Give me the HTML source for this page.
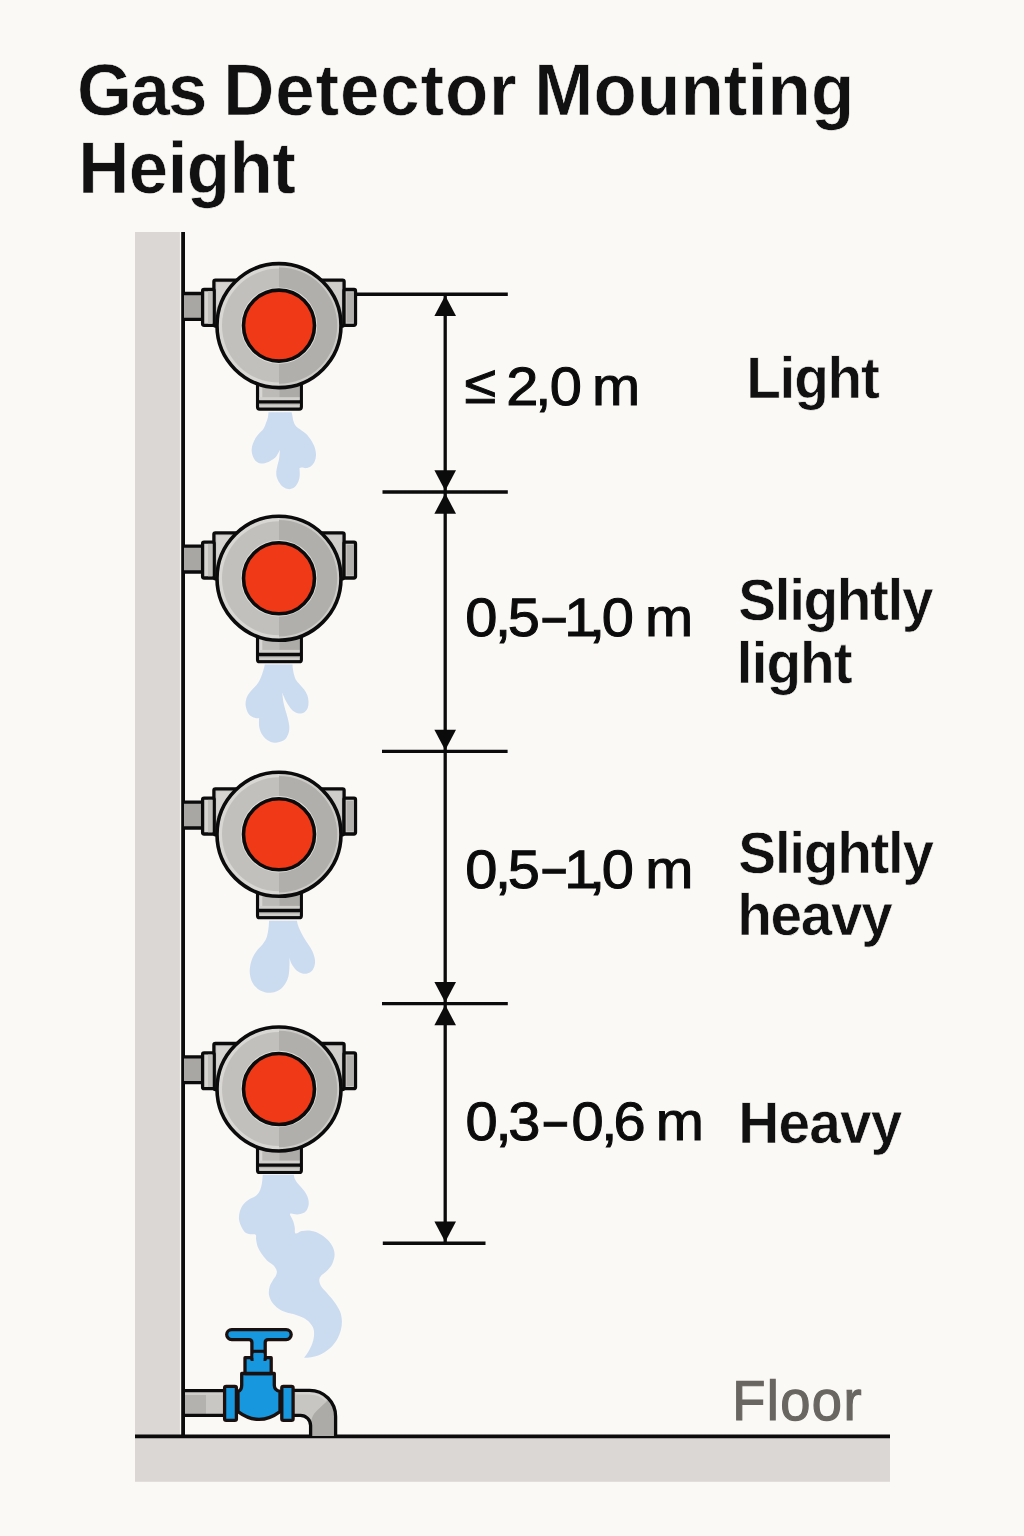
<!DOCTYPE html>
<html lang="en"><head><meta charset="utf-8"><title>Gas Detector Mounting Height</title>
<style>html,body{margin:0;padding:0;background:#fbf9f6;overflow:hidden}svg{display:block}text{font-family:"Liberation Sans",sans-serif;white-space:pre;text-rendering:geometricPrecision;font-kerning:none}</style>
</head><body>
<svg width="1024" height="1536" viewBox="0 0 1024 1536">
<rect width="1024" height="1536" fill="#fbf9f6"/>
<g id="title">
<text transform="translate(0 114.5) scale(0.97 1)" x="79.48 134.44 173.22 213.82 230.17 283.79 325.3 350.52 392.02 433.53 458.74 504.24 532.65 550.79 611.81 656.62 701.43 746.23 770.76 791.26 836.07" y="0" font-size="73" font-weight="700" fill="#111" stroke="#fbf9f6" stroke-width="0.6">Gas Detector Mounting</text>
<text transform="translate(0 193) scale(0.97 1)" x="80.68 132.85 172.9 192.63 236.67 280.71" y="0" font-size="73" font-weight="700" fill="#111" stroke="#fbf9f6" stroke-width="0.6">Height</text>
</g>
<g id="structure">
<rect x="135" y="232" width="44.9" height="1205" fill="#dad7d4"/>
<rect x="135" y="1437" width="755" height="44.8" fill="#dad7d4"/>
<path d="M183.1 232V1436.4" stroke="#0b0b0b" stroke-width="3.8" fill="none"/>
<path d="M135 1436.4H890" stroke="#0b0b0b" stroke-width="3.7" fill="none"/>
</g>
<g id="plumes" fill="#cbdcf1">
<path d="M268.5 412.25C268.5 412.25 291.62 412.25 291.62 412.25C291.62 412.25 291.94 413.5 292.25 415C292.56 416.5 292.88 419.38 293.5 421.25C294.12 423.12 294.75 424.79 296 426.25C297.25 427.71 299.33 428.75 301 430C302.67 431.25 304.33 432.08 306 433.75C307.67 435.42 309.54 437.71 311 440C312.46 442.29 313.92 445 314.75 447.5C315.58 450 316 452.71 316 455C316 457.29 315.58 459.38 314.75 461.25C313.92 463.12 312.46 465.1 311 466.25C309.54 467.4 307.46 467.92 306 468.12C304.54 468.33 303.33 467.5 302.25 467.5C301.17 467.5 299.5 468.12 299.5 468.12C299.5 468.12 299.92 472.81 299.75 475C299.58 477.19 299.33 479.27 298.5 481.25C297.67 483.23 296.42 485.56 294.75 486.88C293.08 488.19 290.58 489.23 288.5 489.12C286.42 489.02 284.02 487.77 282.25 486.25C280.48 484.73 278.88 482.08 277.88 480C276.88 477.92 276.35 476.04 276.25 473.75C276.15 471.46 276.77 468.75 277.25 466.25C277.73 463.75 278.67 461.5 279.12 458.75C279.58 456 280 449.75 280 449.75C280 449.75 278.75 452.35 277.88 453.75C277 455.15 276.31 456.77 274.75 458.12C273.19 459.48 270.79 460.98 268.5 461.88C266.21 462.77 263.08 463.6 261 463.5C258.92 463.4 257.35 462.46 256 461.25C254.65 460.04 253.6 458.12 252.88 456.25C252.15 454.38 251.62 452.08 251.62 450C251.62 447.92 252.19 445.79 252.88 443.75C253.56 441.71 254.65 439.52 255.75 437.75C256.85 435.98 258.21 434.62 259.5 433.12C260.79 431.62 262.42 430.42 263.5 428.75C264.58 427.08 265.27 425 266 423.12C266.73 421.25 267.46 419.31 267.88 417.5C268.29 415.69 268.5 412.25 268.5 412.25Z"/>
<path d="M264.75 664.38C264.75 664.38 292.5 664.38 292.5 664.38C292.5 664.38 292.6 666.98 292.88 668.75C293.15 670.52 293.6 673.12 294.12 675C294.65 676.88 295.06 678.44 296 680C296.94 681.56 298.4 682.81 299.75 684.38C301.1 685.94 302.88 687.6 304.12 689.38C305.38 691.15 306.52 693.02 307.25 695C307.98 696.98 308.4 699.17 308.5 701.25C308.6 703.33 308.5 705.73 307.88 707.5C307.25 709.27 306.21 710.88 304.75 711.88C303.29 712.88 301 713.6 299.12 713.5C297.25 713.4 295.17 712.46 293.5 711.25C291.83 710.04 290.48 708.12 289.12 706.25C287.77 704.38 286.52 702.29 285.38 700C284.23 697.71 282.25 692.5 282.25 692.5C282.25 692.5 282.98 699.58 283.5 702.5C284.02 705.42 284.65 707.29 285.38 710C286.1 712.71 287.21 715.83 287.88 718.75C288.54 721.67 289.38 724.79 289.38 727.5C289.38 730.21 288.85 732.81 287.88 735C286.9 737.19 285.69 739.33 283.5 740.62C281.31 741.92 277.46 742.85 274.75 742.75C272.04 742.65 269.44 741.5 267.25 740C265.06 738.5 262.98 736.04 261.62 733.75C260.27 731.46 259.54 728.85 259.12 726.25C258.71 723.65 259.12 718.12 259.12 718.12C259.12 718.12 255.27 718.23 253.5 717.5C251.73 716.77 249.75 715.42 248.5 713.75C247.25 712.08 246.46 709.58 246 707.5C245.54 705.42 245.44 703.33 245.75 701.25C246.06 699.17 246.79 696.98 247.88 695C248.96 693.02 250.79 691.04 252.25 689.38C253.71 687.71 255.38 686.56 256.62 685C257.88 683.44 258.81 681.88 259.75 680C260.69 678.12 261.52 675.83 262.25 673.75C262.98 671.67 263.71 669.06 264.12 667.5C264.54 665.94 264.75 664.38 264.75 664.38Z"/>
<path d="M269.12 920.75C269.12 920.75 297 920.75 297 920.75C297 920.75 297.31 923.04 297.88 924.75C298.44 926.46 299.33 928.81 300.38 931C301.42 933.19 302.77 935.58 304.12 937.88C305.48 940.17 307.15 942.56 308.5 944.75C309.85 946.94 311.21 948.71 312.25 951C313.29 953.29 314.33 956.21 314.75 958.5C315.17 960.79 315.17 962.77 314.75 964.75C314.33 966.73 313.5 968.92 312.25 970.38C311 971.83 308.92 972.98 307.25 973.5C305.58 974.02 303.92 973.92 302.25 973.5C300.58 973.08 298.81 972.25 297.25 971C295.69 969.75 294.02 967.67 292.88 966C291.73 964.33 290.94 962.46 290.38 961C289.81 959.54 289.5 957.25 289.5 957.25C289.5 957.25 289.67 962.88 289.5 966C289.33 969.12 289.19 973.08 288.5 976C287.81 978.92 286.83 981.21 285.38 983.5C283.92 985.79 281.94 988.23 279.75 989.75C277.56 991.27 274.75 992.21 272.25 992.62C269.75 993.04 267.25 992.94 264.75 992.25C262.25 991.56 259.33 990.17 257.25 988.5C255.17 986.83 253.46 984.54 252.25 982.25C251.04 979.96 250.38 977.25 250 974.75C249.62 972.25 249.62 969.96 250 967.25C250.38 964.54 251.15 961.21 252.25 958.5C253.35 955.79 254.96 953.29 256.62 951C258.29 948.71 260.69 946.73 262.25 944.75C263.81 942.77 265.06 941.21 266 939.12C266.94 937.04 267.42 934.44 267.88 932.25C268.33 930.06 268.54 927.92 268.75 926C268.96 924.08 269.12 920.75 269.12 920.75Z"/>
<path d="M262.69 1174.84C262.69 1174.84 293.94 1174.84 293.94 1174.84C293.94 1174.84 294.07 1177.32 294.72 1178.75C295.37 1180.18 296.41 1181.61 297.84 1183.44C299.28 1185.26 301.75 1187.6 303.31 1189.69C304.88 1191.77 306.31 1193.72 307.22 1195.94C308.13 1198.15 308.78 1200.76 308.78 1202.97C308.78 1205.18 308.13 1207.53 307.22 1209.22C306.31 1210.91 305.01 1212.27 303.31 1213.12C301.62 1213.98 299.28 1214.24 297.06 1214.38C294.85 1214.51 290.68 1212.81 290.03 1213.91C289.38 1215 292.38 1218.72 293.16 1220.94C293.94 1223.15 294.33 1225.1 294.72 1227.19C295.11 1229.27 294.33 1232.79 295.5 1233.44C296.67 1234.09 299.41 1231.56 301.75 1231.09C304.09 1230.62 306.7 1230.23 309.56 1230.62C312.43 1231.02 315.94 1231.93 318.94 1233.44C321.93 1234.95 325.19 1237.34 327.53 1239.69C329.88 1242.03 331.83 1244.9 333 1247.5C334.17 1250.1 334.69 1252.58 334.56 1255.31C334.43 1258.05 333.52 1261.3 332.22 1263.91C330.92 1266.51 328.57 1268.98 326.75 1270.94C324.93 1272.89 322.53 1274.06 321.28 1275.62C320.03 1277.19 319.25 1278.49 319.25 1280.31C319.25 1282.14 320.03 1284.48 321.28 1286.56C322.53 1288.65 324.54 1290.21 326.75 1292.81C328.96 1295.42 332.35 1299.06 334.56 1302.19C336.78 1305.31 338.81 1308.44 340.03 1311.56C341.26 1314.69 341.78 1317.81 341.91 1320.94C342.04 1324.06 341.65 1327.19 340.81 1330.31C339.98 1333.44 338.73 1336.69 336.91 1339.69C335.08 1342.68 332.61 1345.81 329.88 1348.28C327.14 1350.76 323.62 1353.05 320.5 1354.53C317.38 1356.02 313.86 1356.67 311.12 1357.19C308.39 1357.71 304.09 1357.66 304.09 1357.66C304.09 1357.66 306.7 1354.4 308 1352.19C309.3 1349.97 310.92 1346.98 311.91 1344.38C312.9 1341.77 313.68 1339.17 313.94 1336.56C314.2 1333.96 314.2 1331.09 313.47 1328.75C312.74 1326.41 311.26 1324.32 309.56 1322.5C307.87 1320.68 305.66 1319.11 303.31 1317.81C300.97 1316.51 298.36 1315.6 295.5 1314.69C292.64 1313.78 288.99 1313.39 286.12 1312.34C283.26 1311.3 280.66 1310.13 278.31 1308.44C275.97 1306.74 273.62 1304.53 272.06 1302.19C270.5 1299.84 269.33 1296.98 268.94 1294.38C268.55 1291.77 269.07 1288.91 269.72 1286.56C270.37 1284.22 271.8 1282.14 272.84 1280.31C273.89 1278.49 275.32 1277.19 275.97 1275.62C276.62 1274.06 277.14 1272.63 276.75 1270.94C276.36 1269.24 275.06 1267.03 273.62 1265.47C272.19 1263.91 269.98 1263.26 268.16 1261.56C266.33 1259.87 264.38 1257.66 262.69 1255.31C260.99 1252.97 259.09 1250.1 258 1247.5C256.91 1244.9 256.52 1241.82 256.12 1239.69C255.73 1237.55 256.65 1235.6 255.66 1234.69C254.67 1233.78 252.01 1234.69 250.19 1234.22C248.36 1233.75 246.28 1233.31 244.72 1231.88C243.16 1230.44 241.78 1227.84 240.81 1225.62C239.85 1223.41 239.07 1221.07 238.94 1218.59C238.81 1216.12 239.2 1213.26 240.03 1210.78C240.86 1208.31 242.24 1205.76 243.94 1203.75C245.63 1201.74 248.23 1200.05 250.19 1198.75C252.14 1197.45 254.09 1197.19 255.66 1195.94C257.22 1194.69 258.52 1193.33 259.56 1191.25C260.6 1189.17 261.39 1186.17 261.91 1183.44C262.43 1180.7 262.69 1174.84 262.69 1174.84Z"/>
</g>
<g id="dimensions">
<path d="M445.2 294.3V1243.2" stroke="#0b0b0b" stroke-width="3.3" fill="none"/>
<path d="M356 294.3H507.8M382.5 492H507.8M382 751.4H507.6M382 1003.6H507.8M382.8 1243.2H485.5" stroke="#0b0b0b" stroke-width="3.4" fill="none"/>
<path d="M445.2 295.5L434.4 316H456Z" fill="#0b0b0b"/>
<path d="M445.2 490.8L434.4 470.3H456Z" fill="#0b0b0b"/>
<path d="M445.2 493.2L434.4 513.7H456Z" fill="#0b0b0b"/>
<path d="M445.2 750.2L434.4 729.7H456Z" fill="#0b0b0b"/>
<path d="M445.2 1002.4L434.4 981.9H456Z" fill="#0b0b0b"/>
<path d="M445.2 1004.8L434.4 1025.3H456Z" fill="#0b0b0b"/>
<path d="M445.2 1242L434.4 1221.5H456Z" fill="#0b0b0b"/>
</g>
<g id="detectors">
<g transform="translate(279 325.6)">
<rect x="-95" y="-32.1" width="19" height="25.8" fill="#a9a7a4"/>
<path d="M-95 -32.1H-76M-95 -6.3H-76" stroke="#0b0b0b" stroke-width="3.3" fill="none"/>
<rect x="-65.1" y="-45.5" width="130.2" height="46" rx="1.5" fill="#c8c6c3" stroke="#0b0b0b" stroke-width="3.3"/>
<path d="M-62.5 -42.8H-44L-62.5 -18Z" fill="#d6d4d1"/>
<path d="M62.5 -42.8H44L62.5 -18Z" fill="#d0cecb"/>
<rect x="-76.4" y="-36.1" width="11.5" height="35.8" rx="1.5" fill="#d6d4d1" stroke="#0b0b0b" stroke-width="3.3"/>
<rect x="-71" y="-34.4" width="4.5" height="32.4" fill="#c2c0bd"/>
<rect x="65" y="-36.1" width="11.5" height="35.8" rx="1.5" fill="#cbc9c6" stroke="#0b0b0b" stroke-width="3.3"/>
<rect x="67.6" y="-33.4" width="6.6" height="30.4" fill="#b3b1ae"/>
<path d="M-21.4 52V81.4Q-21.4 83.4 -19.4 83.4H20.3Q22.3 83.4 22.3 81.4V52Z" fill="#bdbbb8" stroke="#0b0b0b" stroke-width="3.3" stroke-linejoin="round"/>
<rect x="-19.7" y="60" width="3" height="13.8" fill="#d8d6d3"/>
<rect x="0.5" y="60" width="20.1" height="13.8" fill="#adaba8"/>
<rect x="-19.7" y="71.6" width="40.3" height="3" fill="#d2d0cd"/>
<rect x="-19.7" y="77.8" width="40.3" height="4" fill="#cfcdca"/>
<rect x="-19.7" y="77.8" width="40.3" height="1.4" fill="#b5b3b0"/>
<path d="M-21.4 76.2H22.3" stroke="#0b0b0b" stroke-width="3.3" fill="none"/>
<circle r="62" fill="#d9d7d4"/>
<path d="M0 -57A57 57 0 0 0 0 57Z" fill="#c2c0bd"/>
<path d="M0 -62A62 62 0 0 1 0 62Z" fill="#cdcbc8"/>
<path d="M0 -58.2A58.2 58.2 0 0 1 0 58.2Z" fill="#b1afac"/>
<circle r="62" fill="none" stroke="#0b0b0b" stroke-width="3.6"/>
<circle r="38.2" fill="#e2e0dd"/>
<circle r="35.5" fill="#f03a17" stroke="#0b0b0b" stroke-width="3.6"/>
</g>
<g transform="translate(279 578.3)">
<rect x="-95" y="-32.1" width="19" height="25.8" fill="#a9a7a4"/>
<path d="M-95 -32.1H-76M-95 -6.3H-76" stroke="#0b0b0b" stroke-width="3.3" fill="none"/>
<rect x="-65.1" y="-45.5" width="130.2" height="46" rx="1.5" fill="#c8c6c3" stroke="#0b0b0b" stroke-width="3.3"/>
<path d="M-62.5 -42.8H-44L-62.5 -18Z" fill="#d6d4d1"/>
<path d="M62.5 -42.8H44L62.5 -18Z" fill="#d0cecb"/>
<rect x="-76.4" y="-36.1" width="11.5" height="35.8" rx="1.5" fill="#d6d4d1" stroke="#0b0b0b" stroke-width="3.3"/>
<rect x="-71" y="-34.4" width="4.5" height="32.4" fill="#c2c0bd"/>
<rect x="65" y="-36.1" width="11.5" height="35.8" rx="1.5" fill="#cbc9c6" stroke="#0b0b0b" stroke-width="3.3"/>
<rect x="67.6" y="-33.4" width="6.6" height="30.4" fill="#b3b1ae"/>
<path d="M-21.4 52V81.4Q-21.4 83.4 -19.4 83.4H20.3Q22.3 83.4 22.3 81.4V52Z" fill="#bdbbb8" stroke="#0b0b0b" stroke-width="3.3" stroke-linejoin="round"/>
<rect x="-19.7" y="60" width="3" height="13.8" fill="#d8d6d3"/>
<rect x="0.5" y="60" width="20.1" height="13.8" fill="#adaba8"/>
<rect x="-19.7" y="71.6" width="40.3" height="3" fill="#d2d0cd"/>
<rect x="-19.7" y="77.8" width="40.3" height="4" fill="#cfcdca"/>
<rect x="-19.7" y="77.8" width="40.3" height="1.4" fill="#b5b3b0"/>
<path d="M-21.4 76.2H22.3" stroke="#0b0b0b" stroke-width="3.3" fill="none"/>
<circle r="62" fill="#d9d7d4"/>
<path d="M0 -57A57 57 0 0 0 0 57Z" fill="#c2c0bd"/>
<path d="M0 -62A62 62 0 0 1 0 62Z" fill="#cdcbc8"/>
<path d="M0 -58.2A58.2 58.2 0 0 1 0 58.2Z" fill="#b1afac"/>
<circle r="62" fill="none" stroke="#0b0b0b" stroke-width="3.6"/>
<circle r="38.2" fill="#e2e0dd"/>
<circle r="35.5" fill="#f03a17" stroke="#0b0b0b" stroke-width="3.6"/>
</g>
<g transform="translate(279 834.3)">
<rect x="-95" y="-32.1" width="19" height="25.8" fill="#a9a7a4"/>
<path d="M-95 -32.1H-76M-95 -6.3H-76" stroke="#0b0b0b" stroke-width="3.3" fill="none"/>
<rect x="-65.1" y="-45.5" width="130.2" height="46" rx="1.5" fill="#c8c6c3" stroke="#0b0b0b" stroke-width="3.3"/>
<path d="M-62.5 -42.8H-44L-62.5 -18Z" fill="#d6d4d1"/>
<path d="M62.5 -42.8H44L62.5 -18Z" fill="#d0cecb"/>
<rect x="-76.4" y="-36.1" width="11.5" height="35.8" rx="1.5" fill="#d6d4d1" stroke="#0b0b0b" stroke-width="3.3"/>
<rect x="-71" y="-34.4" width="4.5" height="32.4" fill="#c2c0bd"/>
<rect x="65" y="-36.1" width="11.5" height="35.8" rx="1.5" fill="#cbc9c6" stroke="#0b0b0b" stroke-width="3.3"/>
<rect x="67.6" y="-33.4" width="6.6" height="30.4" fill="#b3b1ae"/>
<path d="M-21.4 52V81.4Q-21.4 83.4 -19.4 83.4H20.3Q22.3 83.4 22.3 81.4V52Z" fill="#bdbbb8" stroke="#0b0b0b" stroke-width="3.3" stroke-linejoin="round"/>
<rect x="-19.7" y="60" width="3" height="13.8" fill="#d8d6d3"/>
<rect x="0.5" y="60" width="20.1" height="13.8" fill="#adaba8"/>
<rect x="-19.7" y="71.6" width="40.3" height="3" fill="#d2d0cd"/>
<rect x="-19.7" y="77.8" width="40.3" height="4" fill="#cfcdca"/>
<rect x="-19.7" y="77.8" width="40.3" height="1.4" fill="#b5b3b0"/>
<path d="M-21.4 76.2H22.3" stroke="#0b0b0b" stroke-width="3.3" fill="none"/>
<circle r="62" fill="#d9d7d4"/>
<path d="M0 -57A57 57 0 0 0 0 57Z" fill="#c2c0bd"/>
<path d="M0 -62A62 62 0 0 1 0 62Z" fill="#cdcbc8"/>
<path d="M0 -58.2A58.2 58.2 0 0 1 0 58.2Z" fill="#b1afac"/>
<circle r="62" fill="none" stroke="#0b0b0b" stroke-width="3.6"/>
<circle r="38.2" fill="#e2e0dd"/>
<circle r="35.5" fill="#f03a17" stroke="#0b0b0b" stroke-width="3.6"/>
</g>
<g transform="translate(279 1089)">
<rect x="-95" y="-32.1" width="19" height="25.8" fill="#a9a7a4"/>
<path d="M-95 -32.1H-76M-95 -6.3H-76" stroke="#0b0b0b" stroke-width="3.3" fill="none"/>
<rect x="-65.1" y="-45.5" width="130.2" height="46" rx="1.5" fill="#c8c6c3" stroke="#0b0b0b" stroke-width="3.3"/>
<path d="M-62.5 -42.8H-44L-62.5 -18Z" fill="#d6d4d1"/>
<path d="M62.5 -42.8H44L62.5 -18Z" fill="#d0cecb"/>
<rect x="-76.4" y="-36.1" width="11.5" height="35.8" rx="1.5" fill="#d6d4d1" stroke="#0b0b0b" stroke-width="3.3"/>
<rect x="-71" y="-34.4" width="4.5" height="32.4" fill="#c2c0bd"/>
<rect x="65" y="-36.1" width="11.5" height="35.8" rx="1.5" fill="#cbc9c6" stroke="#0b0b0b" stroke-width="3.3"/>
<rect x="67.6" y="-33.4" width="6.6" height="30.4" fill="#b3b1ae"/>
<path d="M-21.4 52V81.4Q-21.4 83.4 -19.4 83.4H20.3Q22.3 83.4 22.3 81.4V52Z" fill="#bdbbb8" stroke="#0b0b0b" stroke-width="3.3" stroke-linejoin="round"/>
<rect x="-19.7" y="60" width="3" height="13.8" fill="#d8d6d3"/>
<rect x="0.5" y="60" width="20.1" height="13.8" fill="#adaba8"/>
<rect x="-19.7" y="71.6" width="40.3" height="3" fill="#d2d0cd"/>
<rect x="-19.7" y="77.8" width="40.3" height="4" fill="#cfcdca"/>
<rect x="-19.7" y="77.8" width="40.3" height="1.4" fill="#b5b3b0"/>
<path d="M-21.4 76.2H22.3" stroke="#0b0b0b" stroke-width="3.3" fill="none"/>
<circle r="62" fill="#d9d7d4"/>
<path d="M0 -57A57 57 0 0 0 0 57Z" fill="#c2c0bd"/>
<path d="M0 -62A62 62 0 0 1 0 62Z" fill="#cdcbc8"/>
<path d="M0 -58.2A58.2 58.2 0 0 1 0 58.2Z" fill="#b1afac"/>
<circle r="62" fill="none" stroke="#0b0b0b" stroke-width="3.6"/>
<circle r="38.2" fill="#e2e0dd"/>
<circle r="35.5" fill="#f03a17" stroke="#0b0b0b" stroke-width="3.6"/>
</g>
</g>
<g id="valve">
<rect x="185" y="1390.5" width="40" height="25" fill="#b4b2af"/>
<rect x="206" y="1392" width="17" height="22" fill="#c9c7c4"/>
<rect x="185" y="1392" width="40" height="3" fill="#cfcdca"/>
<path d="M185 1390.6H224M185 1415.4H224" stroke="#0b0b0b" stroke-width="3.3" fill="none"/>
<path d="M293 1390.4H309.6A26 26 0 0 1 335.6 1416.4V1436H310.6V1425.6A10.2 10.2 0 0 0 300.4 1415.4H293Z" fill="#c8c6c3"/>
<path d="M335.6 1436V1416.4A26 26 0 0 0 329 1399.2L317 1410.5Q310.6 1416.5 310.6 1425.6V1436Z" fill="#adaba8"/>
<path d="M296 1393.4H309.6A23 23 0 0 1 325.9 1400.1" stroke="#d6d4d1" stroke-width="2" fill="none"/>
<path d="M293 1390.4H309.6A26 26 0 0 1 335.6 1416.4V1436M293 1415.4H300.4A10.2 10.2 0 0 1 310.6 1425.6V1436" stroke="#0b0b0b" stroke-width="3.3" fill="none"/>
<path d="M241.7 1373.5H274.3V1385.2Q274.3 1390.4 280 1391.4V1411.6Q259 1427.2 238 1411.6V1391.4Q241.7 1390.4 241.7 1385.2Z" fill="#1697de" stroke="#1a1010" stroke-width="3.3" stroke-linejoin="round"/>
<rect x="245" y="1357.7" width="26.2" height="15.8" fill="#1697de" stroke="#1a1010" stroke-width="3.3" stroke-linejoin="round"/>
<path d="M231.7 1329.6H286.2A5 5 0 0 1 286.2 1339.6H268.2Q265.2 1339.6 265.2 1342.6V1359.4H251.9V1342.6Q251.9 1339.6 248.9 1339.6H231.7A5 5 0 0 1 231.7 1329.6Z" fill="#1697de" stroke="#1a1010" stroke-width="3.3" stroke-linejoin="round"/>
<rect x="253.55" y="1354" width="10" height="8" fill="#1697de"/>
<path d="M251.9 1351.3H265.2" stroke="#1a1010" stroke-width="3.1" fill="none"/>
<rect x="224.6" y="1386.3" width="11.8" height="34" rx="1.6" fill="#1697de" stroke="#1a1010" stroke-width="3.3" stroke-linejoin="round"/>
<rect x="281.8" y="1386.3" width="11.3" height="34" rx="1.6" fill="#1697de" stroke="#1a1010" stroke-width="3.3" stroke-linejoin="round"/>
</g>
<g id="values">
<text transform="translate(0 405) scale(1.07 1)" x="434.12 463.76 473.07 500.35 513.82 543.85 553.2" y="0" font-size="54" font-weight="400" fill="#0b0b0b" stroke="#0b0b0b" stroke-width="1"><tspan dy="-1.7">≤</tspan><tspan dy="1.7"> </tspan>2,0 m</text>
<text transform="translate(0 636.3) scale(1.07 1)" x="434.75 462.5 474.52 507.2 527.24 550.44 562.41 592.45 602.87" y="0" font-size="54" font-weight="400" fill="#0b0b0b" stroke="#0b0b0b" stroke-width="1">0,5<tspan dy="-1.5" font-size="58" textLength="21.31" lengthAdjust="spacingAndGlyphs">–</tspan><tspan dy="1.5">1</tspan>,0 m</text>
<text transform="translate(0 887.5) scale(1.07 1)" x="434.75 462.5 474.52 507.2 527.24 550.44 562.41 592.45 603.06" y="0" font-size="54" font-weight="400" fill="#0b0b0b" stroke="#0b0b0b" stroke-width="1">0,5<tspan dy="-1.5" font-size="58" textLength="21.31" lengthAdjust="spacingAndGlyphs">–</tspan><tspan dy="1.5">1</tspan>,0 m</text>
<text transform="translate(0 1140) scale(1.07 1)" x="435.08 463.06 475.1 508.5 534.05 561.89 573.35 603.38 612.78" y="0" font-size="54" font-weight="400" fill="#0b0b0b" stroke="#0b0b0b" stroke-width="1">0,3<tspan dy="-1.5" font-size="58" textLength="21.31" lengthAdjust="spacingAndGlyphs">–</tspan><tspan dy="1.5">0</tspan>,6 m</text>
</g>
<g id="labels">
<text transform="translate(0 397.5) scale(0.97 1)" x="769.28 803.74 818.71 853.17 887.62" y="0" font-size="58.5" font-weight="700" fill="#111" stroke="#fbf9f6" stroke-width="0.6">Light</text>
<text transform="translate(0 620) scale(0.97 1)" x="761.2 798.78 813.59 828.4 862.7 896.99 915.03 929.84" y="0" font-size="58.5" font-weight="700" fill="#111" stroke="#fbf9f6" stroke-width="0.6">Slightly</text>
<text transform="translate(0 682.5) scale(0.97 1)" x="759.63 774.88 790.12 824.85 859.58" y="0" font-size="58.5" font-weight="700" fill="#111" stroke="#fbf9f6" stroke-width="0.6">light</text>
<text transform="translate(0 872.5) scale(0.97 1)" x="761.2 798.87 813.77 828.67 863.05 897.43 915.56 930.46" y="0" font-size="58.5" font-weight="700" fill="#111" stroke="#fbf9f6" stroke-width="0.6">Slightly</text>
<text transform="translate(0 935) scale(0.97 1)" x="760.04 794.4 825.56 856.72 887.88" y="0" font-size="58.5" font-weight="700" fill="#111" stroke="#fbf9f6" stroke-width="0.6">heavy</text>
<text transform="translate(0 1143.2) scale(0.97 1)" x="761.04 802.48 834.21 865.94 897.68" y="0" font-size="58.5" font-weight="700" fill="#111" stroke="#fbf9f6" stroke-width="0.6">Heavy</text>
<text transform="translate(0 1419.6) scale(0.97 1)" x="754.99 790.59 804.43 836.96 869.5" y="0" font-size="56" font-weight="400" fill="#696662" stroke="#696662" stroke-width="1.2">Floor</text>
</g>
</svg>
</body></html>
